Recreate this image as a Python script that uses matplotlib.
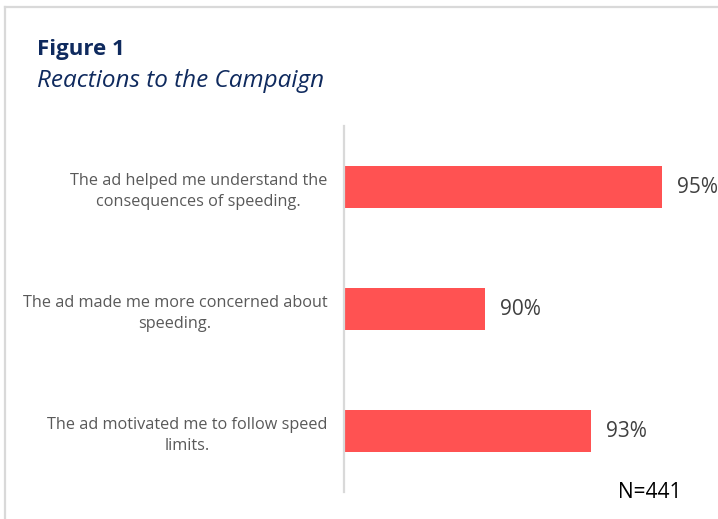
import matplotlib.pyplot as plt
from matplotlib.lines import Line2D

# data
statements = ['The ad helped me understand the\nconsequences of speeding.',
              'The ad made me more concerned about\nspeeding.',
              'The ad motivated me to follow speed\nlimits.']
percent = [95, 90, 93]
n_label = 'N=441'

plt.rcParams['font.family'] = ['Open Sans', 'DejaVu Sans']

fig = plt.figure(figsize=(7.18, 5.19), dpi=100)
ax = fig.add_axes([0.479, 0.052, 0.492, 0.705])

pos = list(range(len(statements)))[::-1]
ax.barh(pos, percent, height=0.35, color='#FF5252', left=0)
ax.set_xlim(86, 96)
ax.set_ylim(-0.5, len(statements) - 0.5)

for y, v in zip(pos, percent):
    ax.text(v + 0.43, y, f'{v}%', va='center', ha='left', fontsize=15, color='#404040')

ax.set_yticks(pos)
ax.set_yticklabels(statements, fontsize=11.7, color='#595959', multialignment='center',
                   linespacing=1.45)
ax.tick_params(axis='y', length=0, pad=12)
ax.set_xticks([])
for s in ['top', 'right', 'bottom']:
    ax.spines[s].set_visible(False)
ax.spines['left'].set_color('#D9D9D9')
ax.spines['left'].set_linewidth(1.6)

fig.text(0.051, 0.905, 'Figure 1', fontsize=16, fontweight='bold', color='#0F2A5E', va='center')
fig.text(0.051, 0.843, 'Reactions to the Campaign', fontsize=17.5, style='italic', color='#0F2A5E', va='center')
fig.text(0.861, 0.052, n_label, fontsize=15, color='black', va='center')

# outer frame (left and top edges visible)
fig.add_artist(Line2D([0.007, 0.007], [0, 0.987], transform=fig.transFigure, color='#D9D9D9', lw=1.6))
fig.add_artist(Line2D([0.007, 1], [0.987, 0.987], transform=fig.transFigure, color='#D9D9D9', lw=1.6))

fig.savefig('out.png', dpi=100)
